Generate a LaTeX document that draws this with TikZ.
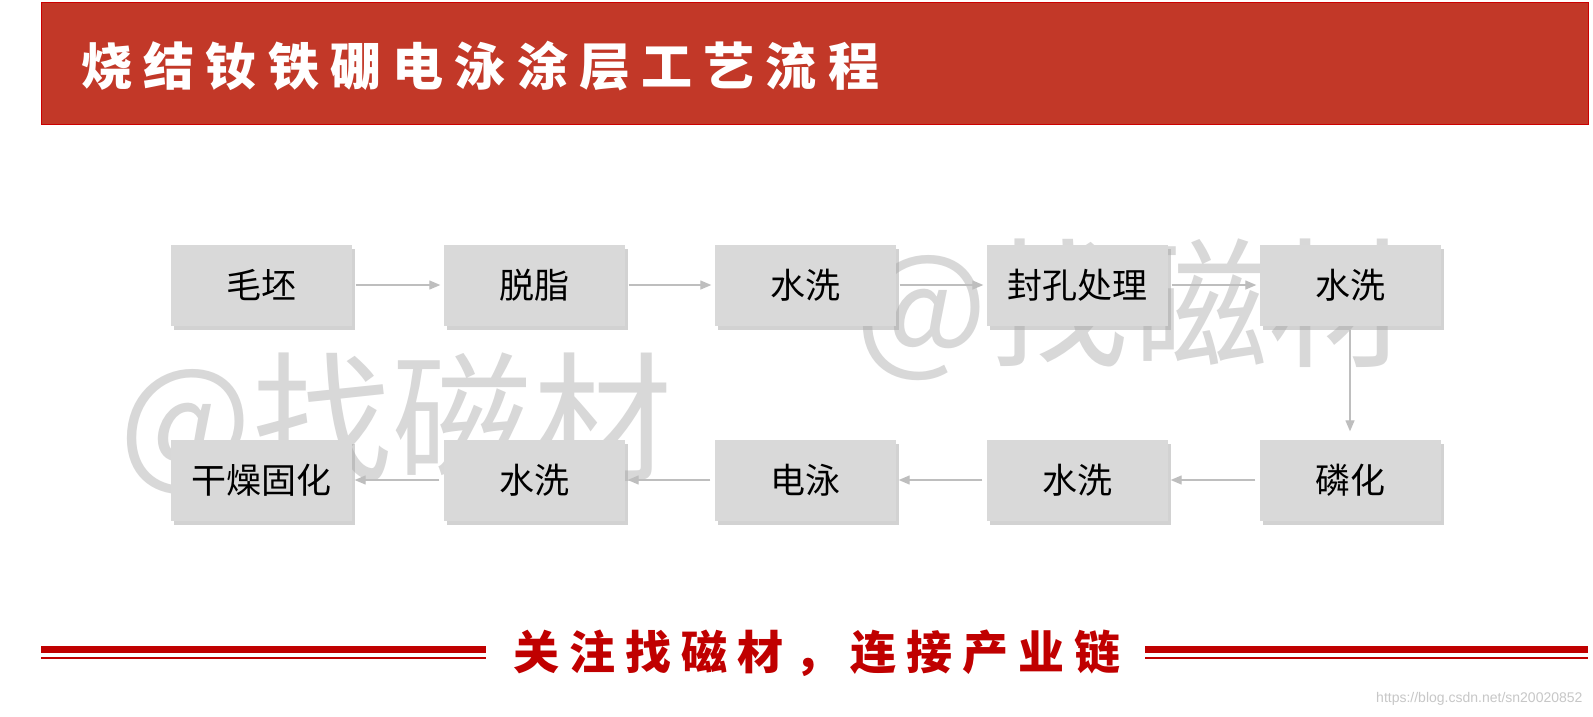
\documentclass[tikz,border=0pt]{standalone}
\usepackage{fontspec}
\newfontfamily\cjk{Noto Sans CJK SC}
\newfontfamily\spacedcjk{Noto Sans CJK SC}[LetterSpace=22]
\newfontfamily\urlfont{Liberation Sans}
\usetikzlibrary{
  positioning,
  arrows.meta,
  shadows
}
\definecolor{titlered}{RGB}{194,56,40}
\definecolor{linered}{RGB}{192,0,0}
\definecolor{boxgray}{RGB}{217,217,217}
\definecolor{arrowgray}{RGB}{190,190,190}
\definecolor{markgray}{RGB}{216,216,216}

\begin{document}
\begin{tikzpicture}[x=1pt,y=-1pt,>={Triangle[length=11pt,width=9pt]},
    stepbox/.style={fill=boxgray,minimum width=181pt,minimum height=81pt,inner sep=0pt,
      font=\cjk\fontsize{35}{35}\selectfont,
      drop shadow={shadow xshift=3pt,shadow yshift=-4pt,fill=black!35}},
    flow/.style={->,draw=arrowgray,color=arrowgray,line width=1.3pt,shorten <=4pt,shorten >=3pt},
    watermark/.style={text=markgray,font=\cjk\fontsize{140}{140}\selectfont}]
    \useasboundingbox (0,0) rectangle (1593,716);
    \fill[white] (0,0) rectangle (1593,716);
    % watermarks
    \node[watermark] (mark1) at (396,424) {@找磁材};
    \node[watermark] (mark2) at (1132,310) {@找磁材};
    % title bar
    \fill[titlered] (41,2) rectangle (1588,124);
    \draw[red!80!black,line width=1pt] (41,2) rectangle (1588,124);
    \node[anchor=west,text=white,font=\spacedcjk\bfseries\fontsize{51}{51}\selectfont] (title) at (78,66) {烧结钕铁硼电泳涂层工艺流程};
    % process steps
    \node[stepbox] (blank) at (261,285) {毛坯};
    \node[stepbox] (degrease) at (534,285) {脱脂};
    \node[stepbox] (washa) at (805,285) {水洗};
    \node[stepbox] (seal) at (1077,285) {封孔处理};
    \node[stepbox] (washb) at (1350,285) {水洗};
    \node[stepbox] (phos) at (1350,480) {磷化};
    \node[stepbox] (washc) at (1077,480) {水洗};
    \node[stepbox] (ecoat) at (805,480) {电泳};
    \node[stepbox] (washd) at (534,480) {水洗};
    \node[stepbox] (cure) at (261,480) {干燥固化};
    \draw[flow] (blank) -- (degrease);
    \draw[flow] (degrease) -- (washa);
    \draw[flow] (washa) -- (seal);
    \draw[flow] (seal) -- (washb);
    \draw[flow,shorten >=8pt] (washb) -- (phos);
    \draw[flow] (phos) -- (washc);
    \draw[flow] (washc) -- (ecoat);
    \draw[flow] (ecoat) -- (washd);
    \draw[flow] (washd) -- (cure);
    % footer
    \draw[linered,line width=7pt] (41,649.5) -- (486,649.5);
    \draw[linered,line width=2pt] (41,658) -- (486,658);
    \draw[linered,line width=7pt] (1145,649.5) -- (1588,649.5);
    \draw[linered,line width=2pt] (1145,658) -- (1588,658);
    \node[text=linered,font=\spacedcjk\bfseries\fontsize{46}{46}\selectfont] (slogan) at (817,653) {关注找磁材，连接产业链};
    \node[anchor=east,text=black!22,font=\urlfont\fontsize{14}{14}\selectfont] (url) at (1586,699) {https://blog.csdn.net/sn20020852};
\end{tikzpicture}
\end{document}
